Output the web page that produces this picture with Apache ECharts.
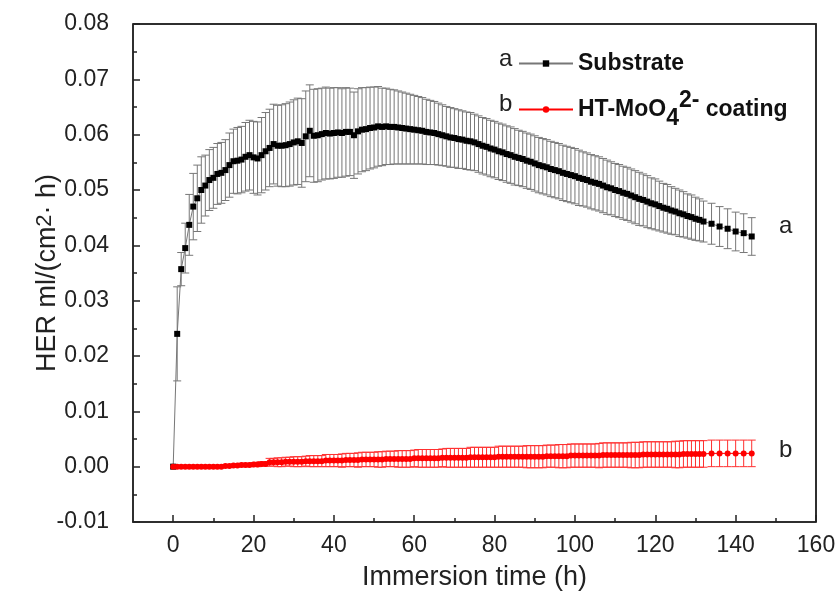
<!DOCTYPE html>
<html><head><meta charset="utf-8">
<script src="https://cdn.jsdelivr.net/npm/echarts@6/dist/echarts.min.js"></script>
<style>html,body{margin:0;padding:0;background:#fff}#c{width:840px;height:596px}</style>
</head><body><div id="c"></div>
<script>
var times = [0,1,2,3,4,5,6,7,8,9,10,11,12,13,14,15,16,17,18,19,20,21,22,23,24,25,26,27,28,29,30,31,32,33,34,35,36,37,38,39,40,41,42,43,44,45,46,47,48,49,50,51,52,53,54,55,56,57,58,59,60,61,62,63,64,65,66,67,68,69,70,71,72,73,74,75,76,77,78,79,80,81,82,83,84,85,86,87,88,89,90,91,92,93,94,95,96,97,98,99,100,101,102,103,104,105,106,107,108,109,110,111,112,113,114,115,116,117,118,119,120,121,122,123,124,125,126,127,128,129,130,131,132,134,136,138,140,142,144];
var substrate = [0,0.024,0.0357,0.0395,0.0437,0.047,0.0485,0.05,0.0508,0.0518,
0.0522,0.0529,0.0531,0.0536,0.0545,0.0552,0.0553,0.0555,0.056,0.0563,
0.0559,0.0557,0.0563,0.057,0.0576,0.0583,0.058,0.058,0.0581,0.0583,
0.0586,0.0588,0.0585,0.0597,0.0607,0.0598,0.0599,0.0601,0.0603,0.0602,
0.0603,0.0604,0.0603,0.0605,0.0605,0.0599,0.0606,0.0609,0.061,0.0612,
0.0613,0.0615,0.0614,0.0615,0.0614,0.0614,0.0613,0.0612,0.0611,0.061,
0.0609,0.0608,0.0607,0.0605,0.0604,0.0603,0.0601,0.0599,0.0597,0.0595,
0.0594,0.0592,0.0591,0.0589,0.0588,0.0586,0.0583,0.058,0.0578,0.0575,
0.0573,0.057,0.0568,0.0565,0.0563,0.056,0.0558,0.0556,0.0553,0.0551,
0.0548,0.0545,0.0543,0.0541,0.0538,0.0536,0.0534,0.0531,0.0529,0.0527,
0.0525,0.0522,0.052,0.0518,0.0515,0.0513,0.0511,0.0508,0.0505,0.0503,
0.05,0.0498,0.0495,0.0493,0.049,0.0487,0.0484,0.0482,0.0479,0.0476,
0.0474,0.0471,0.0468,0.0466,0.0463,0.0461,0.0458,0.0456,0.0453,0.0451,
0.0448,0.0446,0.0443,0.0439,0.0434,0.043,0.0425,0.0422,0.0416];
var substrateErr = [0,0.0085,0.003,0.0045,0.0055,0.006,0.006,0.006,0.0055,0.0055,
0.0055,0.0055,0.0055,0.0055,0.0058,0.0058,0.006,0.006,0.0062,0.0063,
0.0065,0.0066,0.0068,0.007,0.007,0.0072,0.0073,0.0074,0.0075,0.0076,
0.0077,0.0078,0.008,0.0082,0.0083,0.0084,0.0084,0.0083,0.0083,0.0082,
0.0082,0.0081,0.008,0.008,0.0079,0.0078,0.0077,0.0076,0.0075,0.0074,
0.0073,0.0072,0.007,0.0069,0.0068,0.0067,0.0066,0.0065,0.0064,0.0063,
0.0062,0.0061,0.006,0.0059,0.0058,0.0057,0.0056,0.0055,0.0054,0.0054,
0.0053,0.0053,0.0052,0.0052,0.0052,0.0051,0.0051,0.0051,0.0051,0.0051,
0.0051,0.0051,0.0051,0.0051,0.0051,0.0051,0.005,0.005,0.005,0.005,
0.005,0.005,0.005,0.005,0.005,0.005,0.005,0.005,0.005,0.005,
0.005,0.005,0.0049,0.0049,0.0049,0.0049,0.0049,0.0049,0.0049,0.0048,
0.0048,0.0048,0.0048,0.0048,0.0048,0.0048,0.0048,0.0047,0.0047,0.0046,
0.0046,0.0045,0.0044,0.0044,0.0043,0.0042,0.0042,0.0041,0.004,0.004,
0.0039,0.0038,0.0037,0.0037,0.0036,0.0036,0.0035,0.0035,0.0034];
var coating = [0,0,0,0,0,0,0,0,0,0,0,0,0,
0.0001,0.0001,0.0002,0.0002,0.0003,0.0003,0.0003,0.0004,0.0004,0.0005,0.0005,
0.0008,0.0008,0.0008,0.0008,0.0009,0.0009,0.0009,0.0009,0.0009,0.001,0.001,0.001,0.001,0.001,0.0011,0.0011,0.0011,
0.0011,0.0011,0.0012,0.0012,0.0012,0.0012,0.0013,0.0013,0.0013,0.0013,
0.0013,0.0013,0.0014,0.0014,0.0014,0.0014,0.0014,0.0014,0.0014,0.0015,
0.0015,0.0015,0.0015,0.0015,0.0015,0.0015,0.0016,0.0016,0.0016,0.0016,
0.0016,0.0016,0.0016,0.0017,0.0017,0.0017,0.0017,0.0017,0.0017,0.0017,
0.0018,0.0018,0.0018,0.0018,0.0018,0.0018,0.0018,0.0018,0.0018,0.0018,
0.0018,0.0018,0.0019,0.0019,0.0019,0.0019,0.0019,0.0019,0.002,0.002,
0.002,0.002,0.002,0.002,0.002,0.002,0.0021,0.0021,0.0021,0.0021,
0.0021,0.0021,0.0021,0.0021,0.0021,0.0021,0.0022,0.0022,0.0022,0.0022,
0.0022,0.0022,0.0022,0.0022,0.0022,0.0022,0.0023,0.0023,0.0023,0.0023,0.0023,0.0023,
0.0024,0.0024,0.0024,0.0024,0.0024,0.0024];
var coatingErr = [0,0,0,0,0,0,0,0,0,0,
0.0001,0.0001,0.0001,0.0002,0.0002,0.0002,0.0002,0.0003,0.0003,0.0003,0.0003,0.0004,0.0004,0.0004,
0.0007,0.0007,0.0008,0.0008,0.0008,0.0008,0.0009,0.0009,0.0009,0.0009,0.001,0.001,0.001,0.001,0.0011,0.0011,0.0011,
0.0011,0.0012,0.0012,0.0012,0.0012,0.0013,0.0013,0.0013,0.0013,0.0013,
0.0014,0.0014,0.0014,0.0014,0.0014,0.0015,0.0015,0.0015,0.0015,0.0015,
0.0016,0.0016,0.0016,0.0016,0.0016,0.0016,0.0016,0.0017,0.0017,0.0017,
0.0017,0.0017,0.0017,0.0018,0.0018,0.0018,0.0018,0.0018,0.0018,0.0018,
0.0019,0.0019,0.0019,0.0019,0.0019,0.0019,0.0019,0.002,0.002,0.002,
0.002,0.002,0.002,0.002,0.002,0.0021,0.0021,0.0021,0.0021,0.0021,
0.0021,0.0021,0.0021,0.0021,0.0021,0.0022,0.0022,0.0022,0.0022,0.0022,
0.0022,0.0022,0.0022,0.0023,0.0023,0.0023,0.0023,0.0023,0.0023,0.0023,
0.0023,0.0023,0.0023,0.0023,0.0024,0.0024,0.0024,0.0024,0.0024,0.0024,0.0024,0.0024,
0.0024,0.0024,0.0024,0.0024,0.0024,0.0024];
var xMajorTicks = [0,20,40,60,80,100,120,140,160];
var xMinorTicks = [10,30,50,70,90,110,130,150];
var xMin = -10, xMax = 160, yMin = -0.01, yMax = 0.08;

var FONT = 'Liberation Sans, Arial, sans-serif';
function pts(vals){ return times.map(function(t,i){ return [t, vals[i]]; }); }
function errPts(vals, errs){ return times.map(function(t,i){ return [t, vals[i], errs[i]]; }); }
function errRender(color, cap){
  return function(params, api){
    var x = api.value(0), y = api.value(1), e = api.value(2);
    if (!e) return null;
    var hi = api.coord([x, y + e]), lo = api.coord([x, y - e]);
    var st = {stroke: color, lineWidth: 1};
    return {type:'group', children:[
      {type:'line', shape:{x1:hi[0],y1:hi[1],x2:lo[0],y2:lo[1]}, style:st},
      {type:'line', shape:{x1:hi[0]-cap,y1:hi[1],x2:hi[0]+cap,y2:hi[1]}, style:st},
      {type:'line', shape:{x1:lo[0]-cap,y1:lo[1],x2:lo[0]+cap,y2:lo[1]}, style:st}
    ]};
  };
}
function frameLine(){ return {show:true, onZero:false, lineStyle:{color:'#222', width:1.5}}; }
var chart = echarts.init(document.getElementById('c'), null, {renderer:'canvas'});
chart.setOption({
  animation:false,
  backgroundColor:'#fff',
  textStyle:{fontFamily:FONT},
  grid:{left:133, right:24, top:24, bottom:73,
    show:true, borderColor:'#222', borderWidth:1.5, backgroundColor:'transparent'},
  legend:{
    orient:'vertical', left:513, top:47, itemWidth:54, itemHeight:8, itemGap:14,
    data:['Substrate','HT-MoO4 coating'],
    textStyle:{fontFamily:FONT, fontSize:23, fontWeight:'bold', color:'#111',
      rich:{
        b:{fontFamily:FONT, fontSize:23, fontWeight:'bold', color:'#111'},
        sub:{fontFamily:FONT, fontSize:23, fontWeight:'bold', color:'#111', verticalAlign:'bottom', padding:[14,0,0,0]},
        sup:{fontFamily:FONT, fontSize:23, fontWeight:'bold', color:'#111', verticalAlign:'top', padding:[0,0,18,0]}
      }},
    formatter:function(n){
      if (n==='Substrate') return '{b|Substrate}';
      return '{b|HT-MoO}{sub|4}{sup|2-}{b| coating}';
    }
  },
  xAxis:[{
    type:'value', min:xMin, max:xMax, position:'bottom',
    axisLine:frameLine(),
    axisTick:{show:true, inside:true, length:7, customValues:xMajorTicks, lineStyle:{color:'#222', width:1.5}},
    axisLabel:{show:true, customValues:xMajorTicks, fontSize:23, color:'#222', fontFamily:FONT, margin:12},
    splitLine:{show:false},
    name:'Immersion time (h)', nameLocation:'middle', nameGap:42, nameMoveOverlap:false,
    nameTextStyle:{fontSize:27, lineHeight:27, color:'#222', fontFamily:FONT}
  },{
    type:'value', min:xMin, max:xMax, position:'bottom', offset:0,
    axisLine:{show:false, onZero:false},
    axisTick:{show:true, inside:true, length:4, customValues:xMinorTicks, lineStyle:{color:'#222', width:1.5}},
    axisLabel:{show:false}, splitLine:{show:false}
  }],
  yAxis:[{
    type:'value', min:yMin, max:yMax, interval:0.01, position:'left',
    axisLine:frameLine(),
    axisTick:{show:true, inside:true, length:7, lineStyle:{color:'#222', width:1.5}},
    minorTick:{show:true, splitNumber:2, length:4, lineStyle:{color:'#222', width:1.5}},
    axisLabel:{fontSize:23, color:'#222', fontFamily:FONT, margin:24, formatter:function(v){ return v.toFixed(2); }},
    splitLine:{show:false},
    name:'{t|HER ml/(cm}{s|2}{t|· h)}', nameLocation:'middle', nameGap:72, nameMoveOverlap:false,
    nameTextStyle:{fontSize:27, lineHeight:27, color:'#222', fontFamily:FONT,
      rich:{t:{fontSize:27, lineHeight:27, fontFamily:FONT, color:'#222'}, s:{fontSize:22, fontFamily:FONT, color:'#222', verticalAlign:'top', padding:[0,0,14,0]}}}
  }],
  series:[
    {type:'custom', name:'errA', renderItem:errRender('#777',4), data:errPts(substrate, substrateErr), z:1, encode:{x:0,y:1}},
    {type:'custom', name:'errB', renderItem:errRender('#ff3030',4), data:errPts(coating, coatingErr), z:1, encode:{x:0,y:1}},
    {type:'line', name:'Substrate', data:pts(substrate), symbol:'rect', symbolSize:6, showAllSymbol:true,
      itemStyle:{color:'#000'}, lineStyle:{color:'#777', width:1}, z:3},
    {type:'line', name:'HT-MoO4 coating', data:pts(coating), symbol:'circle', symbolSize:6, showAllSymbol:true,
      itemStyle:{color:'#f00'}, lineStyle:{color:'#f00', width:1}, z:3}
  ],
  graphic:[
    {type:'text', left:499, top:47, style:{text:'a', font:'24px '+FONT, fill:'#222'}},
    {type:'text', left:499, top:92, style:{text:'b', font:'24px '+FONT, fill:'#222'}},
    {type:'text', left:779, top:214, style:{text:'a', font:'24px '+FONT, fill:'#222'}},
    {type:'text', left:779, top:438, style:{text:'b', font:'24px '+FONT, fill:'#222'}}
  ]
});
// Plot frame: corners taken from the library's own scales
var tl = chart.convertToPixel({xAxisIndex:0, yAxisIndex:0}, [xMin, yMax]);
var br = chart.convertToPixel({xAxisIndex:0, yAxisIndex:0}, [xMax, yMin]);
chart.setOption({
  graphic:[
    {type:'text', left:499, top:47, style:{text:'a', font:'24px '+FONT, fill:'#222'}},
    {type:'text', left:499, top:92, style:{text:'b', font:'24px '+FONT, fill:'#222'}},
    {type:'text', left:779, top:214, style:{text:'a', font:'24px '+FONT, fill:'#222'}},
    {type:'text', left:779, top:438, style:{text:'b', font:'24px '+FONT, fill:'#222'}},
    {type:'polyline', silent:true, z:100,
      shape:{points:[[tl[0], tl[1]], [br[0], tl[1]], [br[0], br[1]]]},
      style:{stroke:'#222', lineWidth:1.5, fill:null}}
  ]
}, {replaceMerge:['graphic']});
</script></body></html>
